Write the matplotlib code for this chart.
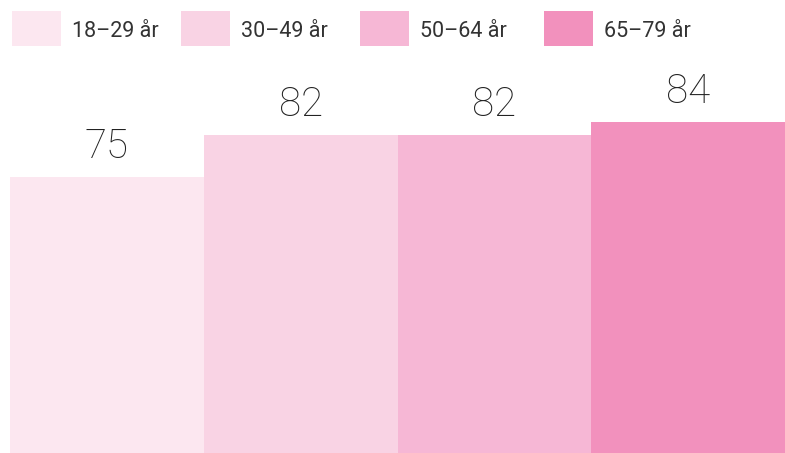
import matplotlib.pyplot as plt
from matplotlib.patches import Rectangle

plt.rcParams['font.family'] = ['Roboto', 'DejaVu Sans']

grupper = ['18–29 år', '30–49 år', '50–64 år', '65–79 år']
varden = [75, 82, 82, 84]
farger = ['#fce7f0', '#f9d3e4', '#f6b7d5', '#f291bd']

W, H = 785, 453
fig = plt.figure(figsize=(W / 100, H / 100), dpi=100)
ax = fig.add_axes([10 / W, 0, 775 / W, 1])

x = range(len(grupper))
ax.bar(x, varden, width=1.0, color=farger, edgecolor='none')
ax.set_xlim(-0.5, len(grupper) - 0.5)
ax.set_ylim(29.2, 104.3)
ax.axis('off')

for i, v in zip(x, varden):
    ax.annotate(str(v), (i, v), textcoords='offset pixels', xytext=(0, 19),
                ha='center', va='baseline', fontsize=29, fontweight='light',
                color='#222222')

# legend row on top
leg_x = [12, 181, 360, 544]
for lx, lab, c in zip(leg_x, grupper, farger):
    fig.patches.append(Rectangle((lx / W, 1 - 46 / H), 49 / W, 35 / H,
                                 transform=fig.transFigure, color=c,
                                 linewidth=0))
    fig.text((lx + 60) / W, 1 - 37 / H, lab, fontsize=15.5, fontweight='normal',
             color='#333333', ha='left', va='baseline')

fig.savefig('out.png', dpi=100)
